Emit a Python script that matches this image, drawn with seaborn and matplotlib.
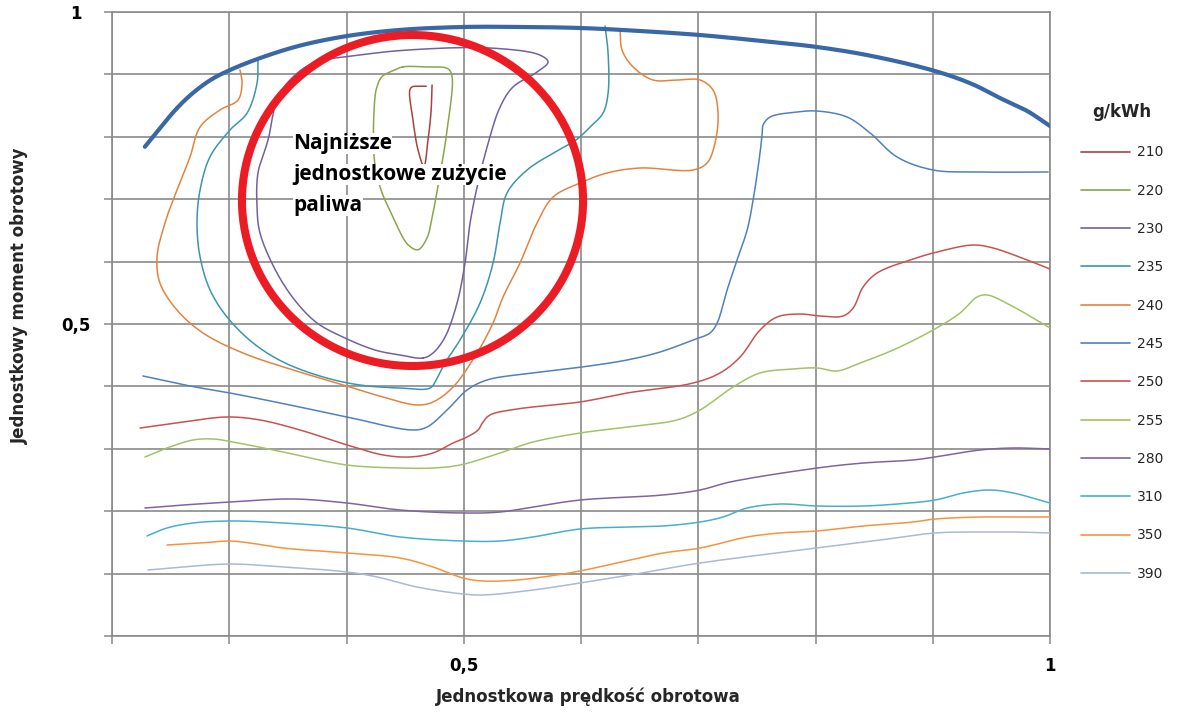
import numpy as np
import pandas as pd
import matplotlib
matplotlib.use("Agg")
import matplotlib.pyplot as plt
from matplotlib.patches import Ellipse
from matplotlib.ticker import FixedLocator, FixedFormatter
import seaborn as sns

# Full-load (maximum torque) curve
x_full = [0.228, 0.241, 0.254, 0.267, 0.284, 0.3006, 0.326, 0.360, 0.4004, 0.445, 0.4994,
          0.548, 0.599, 0.650, 0.7016, 0.7545, 0.8014, 0.848, 0.902, 0.9335, 0.959, 0.9806, 1.0]
y_full = [0.784, 0.814, 0.843, 0.867, 0.891, 0.907, 0.926, 0.946, 0.9615, 0.9712, 0.976,
          0.976, 0.9744, 0.9696, 0.9631, 0.9535, 0.9439, 0.9295, 0.9054, 0.8846, 0.8606, 0.8413, 0.8173]

# Specific fuel consumption iso-lines [g/kWh]
x_210 = [0.473, 0.472, 0.4695, 0.466, 0.461, 0.4567, 0.454, 0.456, 0.4627, 0.468]
y_210 = [0.883, 0.838, 0.795, 0.753, 0.779, 0.827, 0.875, 0.880, 0.881, 0.881]

x_220 = [0.448, 0.467, 0.4866, 0.490, 0.4858, 0.480, 0.473, 0.4687, 0.461, 0.4525, 0.4397,
         0.4286, 0.4235, 0.4243, 0.426, 0.430, 0.441, 0.448]
y_220 = [0.912, 0.912, 0.909, 0.897, 0.811, 0.742, 0.671, 0.638, 0.619, 0.627, 0.671,
         0.7196, 0.768, 0.864, 0.880, 0.896, 0.907, 0.912]

x_230 = [0.4653, 0.4738, 0.484, 0.4943, 0.5011, 0.5054, 0.5114, 0.5199, 0.531, 0.542, 0.5625,
         0.5719, 0.565, 0.5224, 0.4516, 0.4115, 0.3715, 0.3518, 0.3407, 0.3331, 0.3245, 0.3237,
         0.3262, 0.3407, 0.3578, 0.3749, 0.397, 0.4243, 0.4457, 0.4653]
y_230 = [0.4455, 0.4535, 0.479, 0.5337, 0.5978, 0.6619, 0.7196, 0.7837, 0.8478, 0.8798, 0.9038,
         0.9199, 0.931, 0.9423, 0.939, 0.931, 0.918, 0.891, 0.859, 0.795, 0.742, 0.6875,
         0.6458, 0.5817, 0.5337, 0.5016, 0.479, 0.4583, 0.4503, 0.4455]

x_235 = [0.3245, 0.3237, 0.3152, 0.3007, 0.2836, 0.2751, 0.2725, 0.2751, 0.2836, 0.2981, 0.3203,
         0.3459, 0.38, 0.4115, 0.4457, 0.4713, 0.4764, 0.484, 0.4968, 0.5139, 0.525, 0.531,
         0.5369, 0.554, 0.5779, 0.5958, 0.6077, 0.6188, 0.6231, 0.6231, 0.6205]
y_235 = [0.923, 0.886, 0.838, 0.811, 0.768, 0.7147, 0.6619, 0.6074, 0.5545, 0.5112, 0.4696,
         0.4391, 0.4151, 0.4022, 0.3974, 0.3974, 0.4103, 0.4375, 0.4744, 0.5337, 0.5978, 0.6619,
         0.7099, 0.7468, 0.7756, 0.7949, 0.8157, 0.838, 0.870, 0.934, 0.9776]

x_240 = [0.3092, 0.3109, 0.3075, 0.2921, 0.2751, 0.2665, 0.2554, 0.2452, 0.2384, 0.2409, 0.2554,
         0.2776, 0.3117, 0.3544, 0.3919, 0.4312, 0.4602, 0.4738, 0.4909, 0.5113, 0.525, 0.5335,
         0.548, 0.5625, 0.5762, 0.5992, 0.6222, 0.6504, 0.6956, 0.7075, 0.7143, 0.7169, 0.7126,
         0.7016, 0.6819, 0.6615, 0.6444, 0.6350, 0.6333]
y_240 = [0.907, 0.886, 0.859, 0.843, 0.8157, 0.7676, 0.7147, 0.6619, 0.6074, 0.5657, 0.5224,
         0.4856, 0.4535, 0.4263, 0.4054, 0.383, 0.3702, 0.375, 0.399, 0.4535, 0.5016, 0.5433,
         0.5978, 0.6619, 0.7035, 0.726, 0.742, 0.75, 0.7468, 0.758, 0.790, 0.838, 0.875,
         0.891, 0.891, 0.891, 0.912, 0.939, 0.971]

x_245 = [0.2264, 0.2665, 0.3007, 0.3518, 0.4005, 0.4567, 0.4687, 0.4858, 0.5028, 0.5199, 0.5591,
         0.6009, 0.6393, 0.6674, 0.6956, 0.71, 0.7161, 0.7246, 0.7331, 0.7417, 0.7468, 0.7527,
         0.7544, 0.7553, 0.7613, 0.7843, 0.8014, 0.8269, 0.8466, 0.8696, 0.9003, 0.9404, 0.9984]
y_245 = [0.4167, 0.4006, 0.3894, 0.3702, 0.351, 0.3301, 0.3349, 0.3622, 0.3942, 0.4103, 0.4215,
         0.4311, 0.4423, 0.4551, 0.4744, 0.4856, 0.5016, 0.5545, 0.6026, 0.6506, 0.6987, 0.774,
         0.8029, 0.8189, 0.8317, 0.8397, 0.8413, 0.8317, 0.8061, 0.7676, 0.7468, 0.7436, 0.7436]

x_250 = [0.2239, 0.2606, 0.2981, 0.3262, 0.3604, 0.4005, 0.4312, 0.4542, 0.4738, 0.4909, 0.5028,
         0.5122, 0.5165, 0.5224, 0.5455, 0.5992, 0.6393, 0.6956, 0.7186, 0.7357, 0.7527, 0.7672,
         0.7869, 0.8039, 0.8235, 0.8321, 0.8406, 0.8525, 0.8807, 0.9037, 0.9344, 0.9515, 0.9805, 1.0]
y_250 = [0.3333, 0.3429, 0.351, 0.3462, 0.3301, 0.3061, 0.2901, 0.2869, 0.2933, 0.3093, 0.3189,
         0.3301, 0.343, 0.3542, 0.3638, 0.375, 0.3894, 0.4054, 0.4215, 0.4471, 0.4904, 0.5112,
         0.516, 0.5128, 0.5128, 0.5256, 0.5593, 0.5817, 0.6026, 0.6154, 0.6266, 0.6218, 0.6026, 0.5881]

x_255 = [0.2281, 0.2469, 0.2691, 0.2862, 0.3032, 0.3459, 0.4005, 0.4457, 0.4738, 0.4968, 0.531,
         0.5591, 0.5992, 0.6393, 0.6819, 0.7016, 0.7297, 0.7527, 0.7809, 0.8014, 0.8184, 0.838,
         0.8662, 0.9003, 0.9233, 0.9378, 0.9464, 0.966, 1.0]
y_255 = [0.2869, 0.3013, 0.3141, 0.3157, 0.3109, 0.2949, 0.274, 0.2692, 0.2692, 0.274, 0.2933,
         0.3109, 0.3253, 0.3349, 0.3462, 0.3622, 0.399, 0.4215, 0.4279, 0.4295, 0.4247, 0.4375,
         0.4583, 0.4904, 0.5176, 0.5433, 0.5465, 0.5304, 0.4936]

x_280 = [0.2281, 0.2606, 0.3007, 0.3544, 0.4005, 0.4457, 0.4994, 0.531, 0.5591, 0.5992, 0.67,
         0.7016, 0.7272, 0.8014, 0.8406, 0.8833, 0.902, 0.9404, 0.9686, 1.0]
y_280 = [0.2051, 0.2099, 0.2147, 0.2196, 0.2131, 0.2019, 0.1971, 0.1987, 0.2067, 0.2179, 0.226,
         0.234, 0.2468, 0.2692, 0.2772, 0.2821, 0.2869, 0.2981, 0.3013, 0.2997]

x_310 = [0.2298, 0.2469, 0.2691, 0.3007, 0.3459, 0.4005, 0.4457, 0.4994, 0.531, 0.5591, 0.5992,
         0.6419, 0.67, 0.7016, 0.7212, 0.7417, 0.7698, 0.8014, 0.8406, 0.8696, 0.902, 0.9259,
         0.9489, 0.9686, 1.0]
y_310 = [0.1603, 0.1731, 0.1811, 0.1843, 0.1811, 0.1731, 0.1587, 0.1522, 0.1522, 0.1587, 0.1715,
         0.1747, 0.1763, 0.1827, 0.1907, 0.2051, 0.2115, 0.2083, 0.2083, 0.2115, 0.2179, 0.2292,
         0.234, 0.2292, 0.2131]

x_350 = [0.2469, 0.2751, 0.3007, 0.3177, 0.3459, 0.4005, 0.4457, 0.4738, 0.4994, 0.5165, 0.5455,
         0.5736, 0.5992, 0.6419, 0.67, 0.7016, 0.7417, 0.7698, 0.8014, 0.8406, 0.8833, 0.902,
         0.9404, 0.9686, 1.0]
y_350 = [0.1458, 0.149, 0.1522, 0.149, 0.141, 0.133, 0.125, 0.1106, 0.0929, 0.0881, 0.0897,
         0.0962, 0.1042, 0.1218, 0.133, 0.141, 0.1587, 0.1651, 0.1683, 0.1763, 0.1827, 0.1875,
         0.1907, 0.1907, 0.1907]

x_390 = [0.2307, 0.2606, 0.3007, 0.3459, 0.4005, 0.4261, 0.4602, 0.4994, 0.5165, 0.5591, 0.5992,
         0.6419, 0.7016, 0.8014, 0.8551, 0.902, 0.9404, 0.9686, 1.0]
y_390 = [0.1058, 0.1106, 0.1154, 0.1106, 0.1026, 0.0946, 0.0785, 0.0673, 0.0657, 0.0737, 0.0849,
         0.0978, 0.117, 0.141, 0.1538, 0.1651, 0.1667, 0.1667, 0.1651]

levels = ["210", "220", "230", "235", "240", "245", "250", "255", "280", "310", "350", "390"]
level_x = [x_210, x_220, x_230, x_235, x_240, x_245, x_250, x_255, x_280, x_310, x_350, x_390]
level_y = [y_210, y_220, y_230, y_235, y_240, y_245, y_250, y_255, y_280, y_310, y_350, y_390]
level_colors = ["#A8423F", "#8AA64A", "#7260A0", "#3A96AE", "#E3843E", "#4F81BD",
                "#C9524F", "#A3C265", "#8064A2", "#45B0CC", "#F7923F", "#A9B9D8"]

x_ticks = [0.2, 0.3, 0.4, 0.5, 0.6, 0.7, 0.8, 0.9, 1.0]
x_tick_labels = ["", "", "", "0,5", "", "", "", "", "1"]
y_ticks = [0.0, 0.1, 0.2, 0.3, 0.4, 0.5, 0.6, 0.7, 0.8, 0.9, 1.0]
y_tick_labels = ["", "", "", "", "", "0,5", "", "", "", "", "1"]

note_lines = ["Najniższe", "jednostkowe zużycie", "paliwa"]


def smoothed(xs, ys, steps=10, sx=1172.5, sy=624.0):
    """Centripetal Catmull-Rom path through the given points (smoothed line style)."""
    p = np.column_stack([np.asarray(xs) * sx, np.asarray(ys) * sy])
    closed = np.hypot(*(p[0] - p[-1])) < 1.0
    if closed:
        p = p[:-1]
        ext = np.vstack([p[-1], p, p[0], p[1]])
    else:
        ext = np.vstack([2 * p[0] - p[1], p, 2 * p[-1] - p[-2]])
    out = []
    for i in range(len(ext) - 3):
        p0, p1, p2, p3 = ext[i], ext[i + 1], ext[i + 2], ext[i + 3]
        t0 = 0.0
        t1 = t0 + max(np.hypot(*(p1 - p0)), 1e-6) ** 0.5
        t2 = t1 + max(np.hypot(*(p2 - p1)), 1e-6) ** 0.5
        t3 = t2 + max(np.hypot(*(p3 - p2)), 1e-6) ** 0.5
        t = np.linspace(t1, t2, steps, endpoint=False)[:, None]
        a1 = (t1 - t) / (t1 - t0) * p0 + (t - t0) / (t1 - t0) * p1
        a2 = (t2 - t) / (t2 - t1) * p1 + (t - t1) / (t2 - t1) * p2
        a3 = (t3 - t) / (t3 - t2) * p2 + (t - t2) / (t3 - t2) * p3
        b1 = (t2 - t) / (t2 - t0) * a1 + (t - t0) / (t2 - t0) * a2
        b2 = (t3 - t) / (t3 - t1) * a2 + (t - t1) / (t3 - t1) * a3
        out.append((t2 - t) / (t2 - t1) * b1 + (t - t1) / (t2 - t1) * b2)
    out.append(ext[-2][None, :])
    path = np.vstack(out)
    return path[:, 0] / sx, path[:, 1] / sy


frames = []
for lev, xs, ys in zip(levels, level_x, level_y):
    px, py = smoothed(xs, ys)
    frames.append(pd.DataFrame({"x": px, "y": py, "g/kWh": lev}))
iso = pd.concat(frames, ignore_index=True)
fx, fy = smoothed(x_full, y_full)
full = pd.DataFrame({"x": fx, "y": fy})

sns.set_theme(style="white")
plt.rcParams["font.family"] = ["DejaVu Sans"]

fig = plt.figure(figsize=(11.96, 7.13), dpi=100)
ax = fig.add_axes([112 / 1196, 77 / 713, 938 / 1196, 624 / 713])

sns.lineplot(data=iso, x="x", y="y", hue="g/kWh", hue_order=levels,
             palette=dict(zip(levels, level_colors)), sort=False, estimator=None,
             linewidth=1.1, ax=ax, zorder=3)
sns.lineplot(data=full, x="x", y="y", sort=False, estimator=None, color="#3A67A6",
             linewidth=3.0, ax=ax, legend=False, zorder=4)

ax.set_xlim(0.2, 1.0)
ax.set_ylim(0.0, 1.0)
ax.xaxis.set_major_locator(FixedLocator(x_ticks))
ax.xaxis.set_major_formatter(FixedFormatter(x_tick_labels))
ax.yaxis.set_major_locator(FixedLocator(y_ticks))
ax.yaxis.set_major_formatter(FixedFormatter(y_tick_labels))
ax.grid(True, color="#8A8A8A", linewidth=1.2, zorder=1)
ax.set_axisbelow(True)
for sp in ax.spines.values():
    sp.set_visible(True)
    sp.set_color("#8A8A8A")
    sp.set_linewidth(1.2)
ax.tick_params(axis="both", which="major", direction="out", length=6, width=1.1,
               color="#8A8A8A", labelsize=12, labelcolor="black", bottom=True, left=True)
ax.tick_params(axis="x", pad=9)
ax.tick_params(axis="y", pad=20)
for lab in ax.get_xticklabels() + ax.get_yticklabels():
    lab.set_fontweight("bold")
for lab in ax.get_yticklabels():
    lab.set_horizontalalignment("center")

ax.set_xlabel("Jednostkowa prędkość obrotowa", fontsize=12, fontweight="bold")
ax.set_ylabel("Jednostkowy moment obrotowy", fontsize=12, fontweight="bold")
ax.xaxis.set_label_coords(0.508, -0.083)
ax.yaxis.set_label_coords(-0.089, 0.545)

# Region of lowest specific fuel consumption
ax.add_patch(Ellipse((0.4563, 0.6979), 0.2909, 0.5304, fill=False,
                     edgecolor="#EC1C24", linewidth=5.8, zorder=6))
for i, line in enumerate(note_lines):
    ax.text(0.3544, 0.806 - i * 0.0497, line, fontsize=15, fontweight="bold",
            family=["Open Sans", "DejaVu Sans"], va="top", ha="left", color="black",
            bbox=dict(facecolor="white", edgecolor="none", pad=0.3), zorder=5)

sns.move_legend(ax, "upper left", bbox_to_anchor=(1.033, 0.854), frameon=False,
                title="g/kWh", fontsize=10, title_fontsize=12, handlelength=3.5,
                handletextpad=0.5, labelspacing=1.75, borderpad=0, borderaxespad=0)
leg = ax.get_legend()
leg.get_title().set_fontweight("bold")
for h in leg.get_lines():
    h.set_linewidth(1.2)

fig.savefig("out.png", dpi=100)
